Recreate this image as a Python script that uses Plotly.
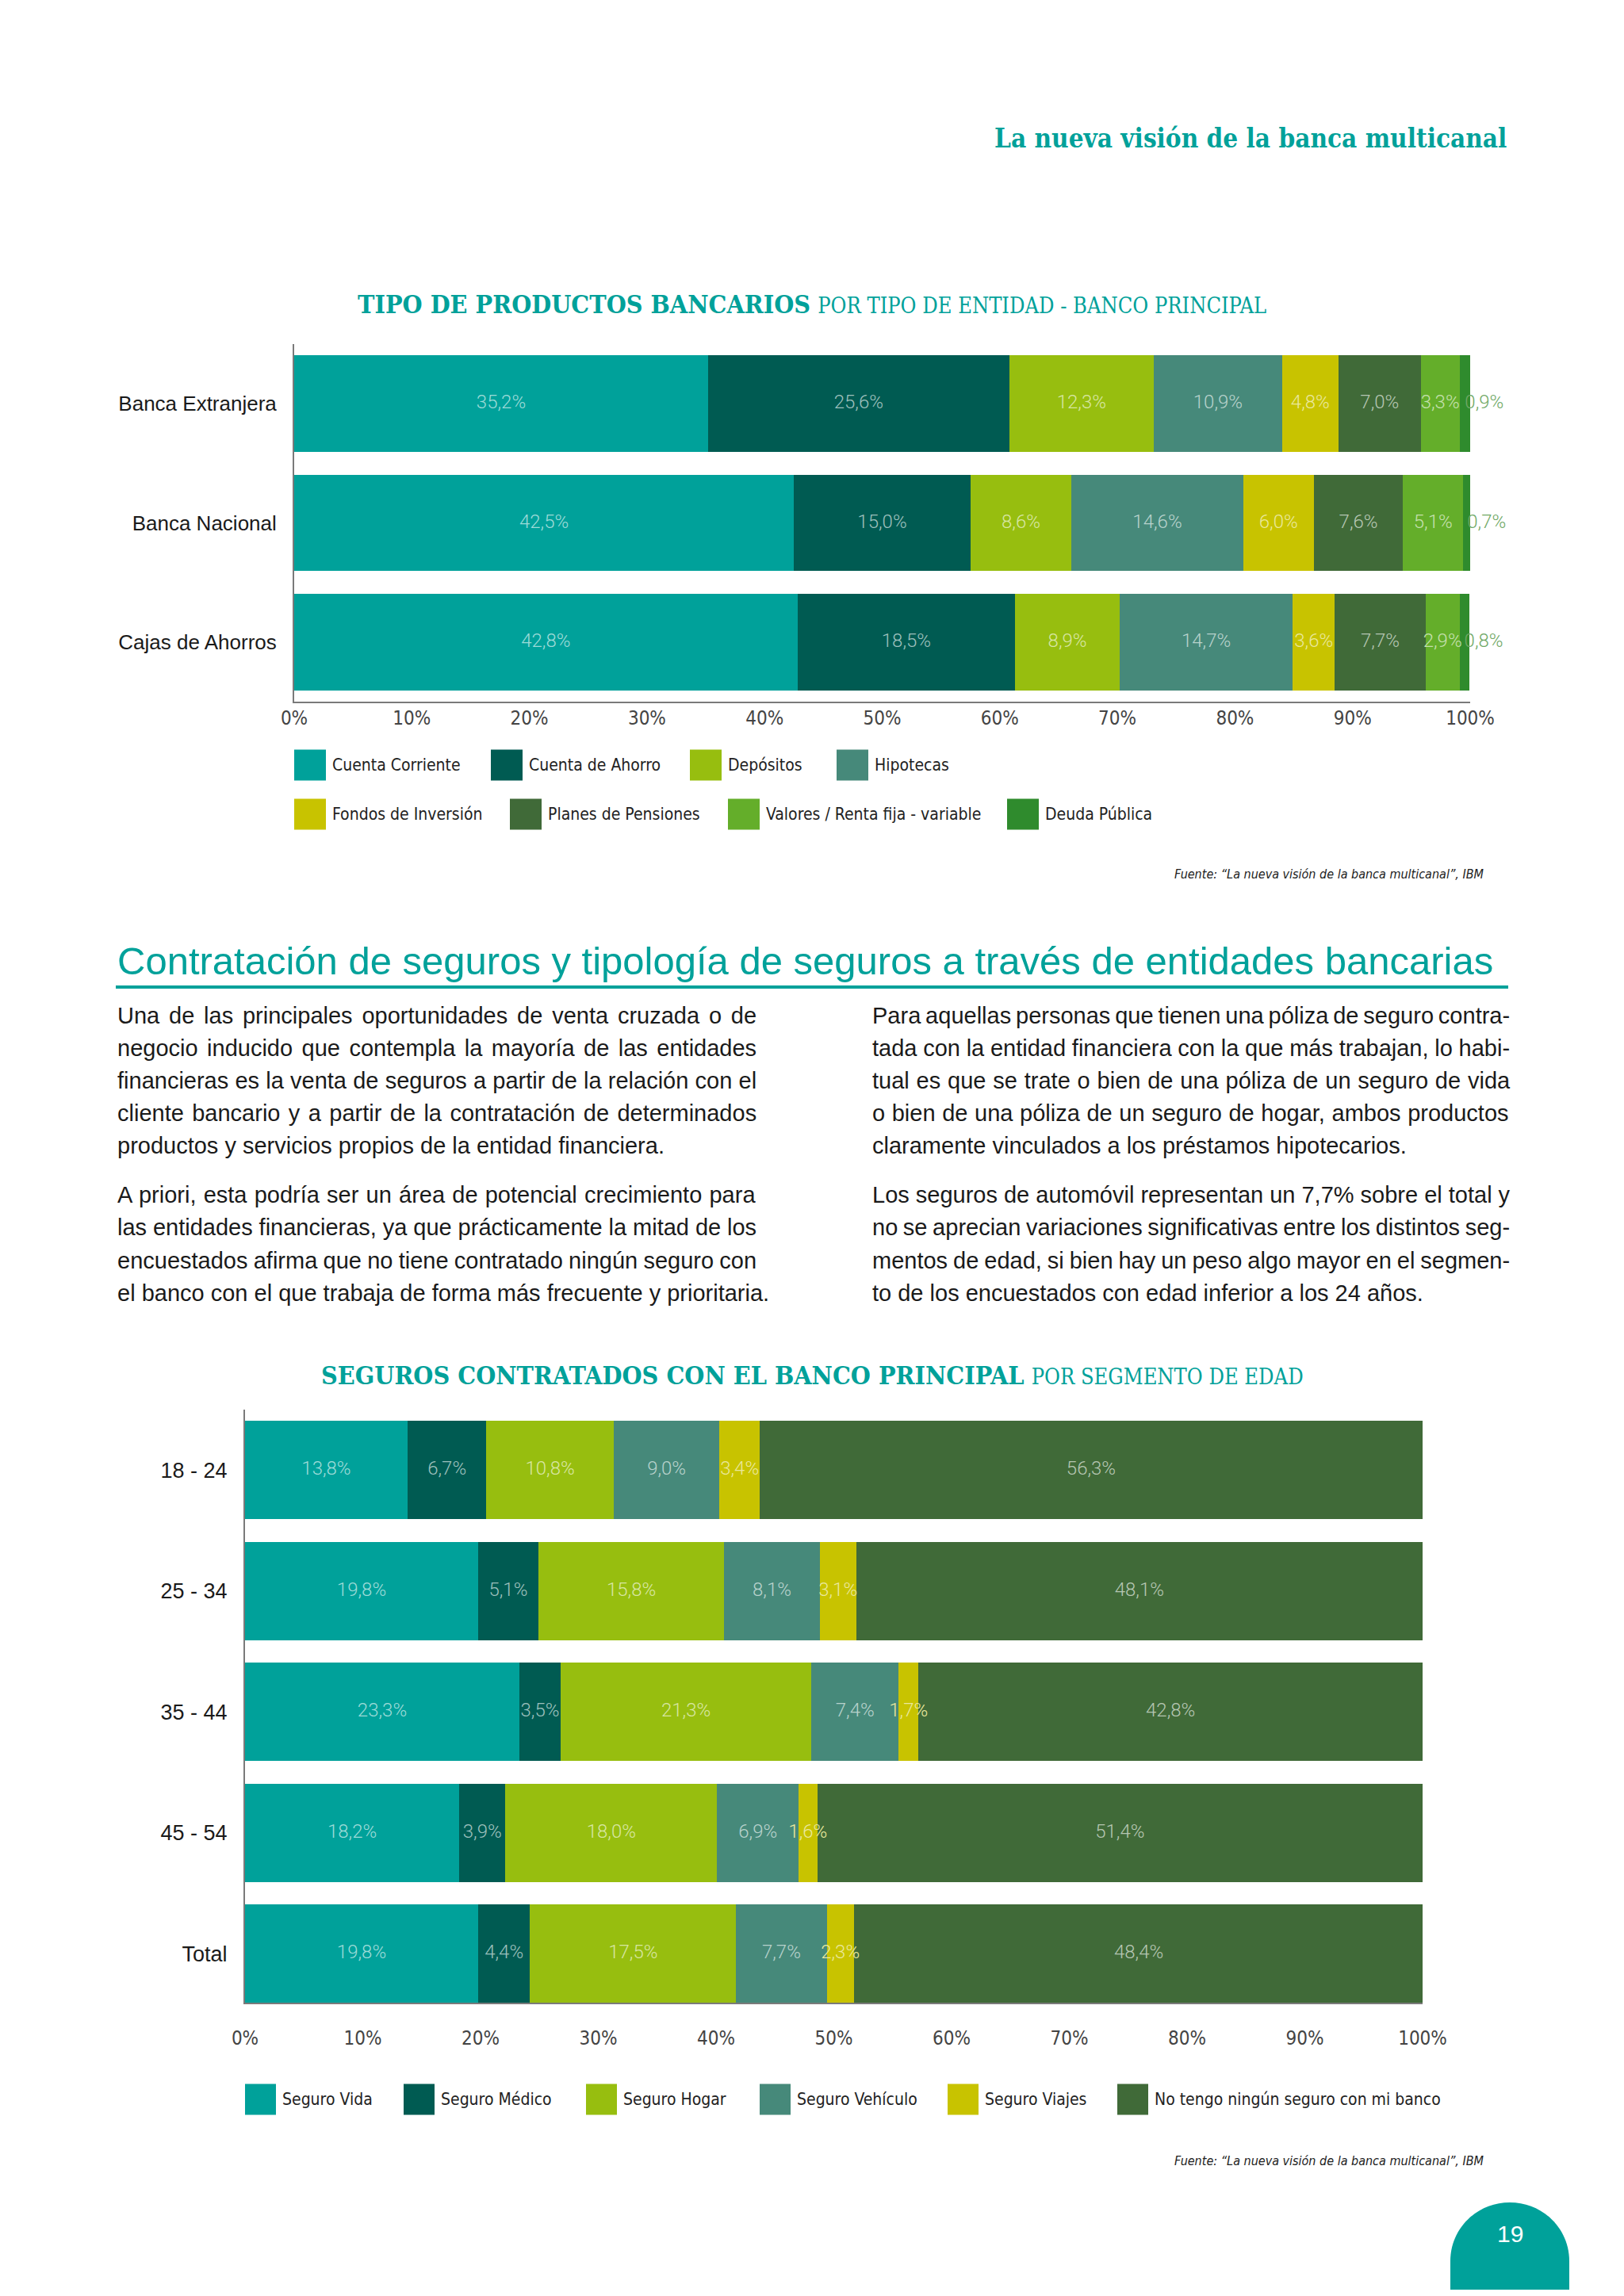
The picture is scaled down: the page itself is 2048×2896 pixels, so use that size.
import plotly.graph_objects as go

# Page is 2048x2896; body has an 8px default margin, so the figure is 16px smaller
PAGE_W, PAGE_H = 2048, 2896
M = 8
W, H = PAGE_W - 2 * M, PAGE_H - 2 * M

# ---------------- Data: chart 1 ----------------
entities = ["Banca Extranjera", "Banca Nacional", "Cajas de Ahorros"]
products = ["Cuenta Corriente", "Cuenta de Ahorro", "Depósitos", "Hipotecas",
            "Fondos de Inversión", "Planes de Pensiones",
            "Valores / Renta fija - variable", "Deuda Pública"]
cuenta_corriente = [35.2, 42.5, 42.8]
cuenta_ahorro = [25.6, 15.0, 18.5]
depositos = [12.3, 8.6, 8.9]
hipotecas = [10.9, 14.6, 14.7]
fondos_inversion = [4.8, 6.0, 3.6]
planes_pensiones = [7.0, 7.6, 7.7]
valores_renta = [3.3, 5.1, 2.9]
deuda_publica = [0.9, 0.7, 0.8]

# ---------------- Data: chart 2 ----------------
age_groups = ["18 - 24", "25 - 34", "35 - 44", "45 - 54", "Total"]
insurances = ["Seguro Vida", "Seguro Médico", "Seguro Hogar", "Seguro Vehículo",
              "Seguro Viajes", "No tengo ningún seguro con mi banco"]
seguro_vida = [13.8, 19.8, 23.3, 18.2, 19.8]
seguro_medico = [6.7, 5.1, 3.5, 3.9, 4.4]
seguro_hogar = [10.8, 15.8, 21.3, 18.0, 17.5]
seguro_vehiculo = [9.0, 8.1, 7.4, 6.9, 7.7]
seguro_viajes = [3.4, 3.1, 1.7, 1.6, 2.3]
ningun_seguro = [56.3, 48.1, 42.8, 51.4, 48.4]

x_tick_values = [0, 10, 20, 30, 40, 50, 60, 70, 80, 90, 100]

# ---------------- Styles ----------------
TEAL = "#00A19A"
C_VIDA = "#00A19A"
C_AHORRO = "#005B52"
C_DEPOS = "#97BE0F"
C_HIPOT = "#46897A"
C_FONDOS = "#C8C300"
C_PLANES = "#406A38"
C_VALORES = "#64AE2A"
C_DEUDA = "#2F8B2D"

colors1 = [C_VIDA, C_AHORRO, C_DEPOS, C_HIPOT, C_FONDOS, C_PLANES, C_VALORES, C_DEUDA]
colors2 = [C_VIDA, C_AHORRO, C_DEPOS, C_HIPOT, C_FONDOS, C_PLANES]

BODY = "Liberation Sans, Arial, sans-serif"
NARROW = "DejaVu Sans Condensed, Liberation Sans Narrow, sans-serif"
SLAB = "DejaVu Serif Condensed, DejaVu Serif, serif"
LIGHT = "Roboto, Liberation Sans, sans-serif"


def tint(hex_color, f=0.62):
    h = hex_color.lstrip("#")
    r, g, b = int(h[0:2], 16), int(h[2:4], 16), int(h[4:6], 16)
    r = int(r + (255 - r) * f)
    g = int(g + (255 - g) * f)
    b = int(b + (255 - b) * f)
    return f"rgb({r},{g},{b})"


def fmt(v):
    return f"{v:.1f}".replace(".", ",") + "%"


def X(p):
    return (p - M) / W


def Y(p):
    return 1 - (p - M) / H


fig = go.Figure()

# ---------------- Chart 1 bars ----------------
series1 = [cuenta_corriente, cuenta_ahorro, depositos, hipotecas,
           fondos_inversion, planes_pensiones, valores_renta, deuda_publica]
for name, vals, col in zip(products, series1, colors1):
    fig.add_trace(go.Bar(
        x=vals, y=entities, orientation="h", name=name,
        marker=dict(color=col, line=dict(width=0)),
        xaxis="x", yaxis="y", showlegend=False,
        hovertemplate="%{y}<br>" + name + ": %{x:.1f}%<extra></extra>"))

cum = [0.0] * len(entities)
for i, (name, vals, col) in enumerate(zip(products, series1, colors1)):
    xs = [c + v / 2 for c, v in zip(cum, vals)]
    last = i == len(series1) - 1
    fig.add_trace(go.Scatter(
        x=xs, y=entities, mode="text", text=[fmt(v) for v in vals],
        textposition="middle right" if last else "middle center",
        textfont=dict(family=LIGHT, size=24, weight=300,
                      color="#6FA865" if last else tint(col)),
        xaxis="x", yaxis="y", showlegend=False, hoverinfo="skip",
        cliponaxis=False))
    cum = [c + v for c, v in zip(cum, vals)]

# ---------------- Chart 2 bars ----------------
series2 = [seguro_vida, seguro_medico, seguro_hogar, seguro_vehiculo,
           seguro_viajes, ningun_seguro]
for name, vals, col in zip(insurances, series2, colors2):
    fig.add_trace(go.Bar(
        x=vals, y=age_groups, orientation="h", name=name,
        marker=dict(color=col, line=dict(width=0)),
        xaxis="x2", yaxis="y2", showlegend=False,
        hovertemplate="%{y}<br>" + name + ": %{x:.1f}%<extra></extra>"))

cum = [0.0] * len(age_groups)
for name, vals, col in zip(insurances, series2, colors2):
    xs = [c + v / 2 for c, v in zip(cum, vals)]
    fig.add_trace(go.Scatter(
        x=xs, y=age_groups, mode="text", text=[fmt(v) for v in vals],
        textposition="middle center",
        textfont=dict(family=LIGHT, size=24, weight=300, color=tint(col)),
        xaxis="x2", yaxis="y2", showlegend=False, hoverinfo="skip",
        cliponaxis=False))
    cum = [c + v for c, v in zip(cum, vals)]

axis_common = dict(showgrid=False, zeroline=False, showline=True,
                   linecolor="#7a7a7a", linewidth=2, ticks="", fixedrange=True,
                   automargin=False)

fig.update_layout(
    width=W, height=H, margin=dict(l=0, r=0, t=0, b=0, autoexpand=False),
    paper_bgcolor="white", plot_bgcolor="white",
    barmode="stack", bargap=0.19, showlegend=False,
    xaxis=dict(domain=[X(371), X(1854)], range=[0, 100], anchor="y",
               tickvals=x_tick_values, ticktext=[f"{v}%" for v in x_tick_values],
               tickfont=dict(family=NARROW, size=24, color="#444444"),
               ticklabelstandoff=-2, **axis_common),
    yaxis=dict(domain=[Y(885), Y(434)], type="category",
               categoryorder="array", categoryarray=entities,
               range=[2.5, -0.5], anchor="x",
               tickfont=dict(family=BODY, size=26, color="#1a1a1a"),
               ticklabelstandoff=15, **axis_common),
    xaxis2=dict(domain=[X(309), X(1794)], range=[0, 100], anchor="y2",
                tickvals=x_tick_values, ticktext=[f"{v}%" for v in x_tick_values],
                tickfont=dict(family=NARROW, size=24, color="#444444"),
                ticklabelstandoff=22, **axis_common),
    yaxis2=dict(domain=[Y(2526), Y(1778)], type="category",
                categoryorder="array", categoryarray=age_groups,
                range=[4.405, -0.5], anchor="x2",
                tickfont=dict(family=BODY, size=27, color="#1a1a1a"),
                ticklabelstandoff=15, **axis_common),
)

annotations = []
shapes = []


def text(x, y, s, size, color="#1a1a1a", family=BODY, xanchor="left",
         yanchor="middle", weight=None, style=None):
    f = dict(family=family, size=size, color=color)
    if weight is not None:
        f["weight"] = weight
    if style is not None:
        f["style"] = style
    annotations.append(dict(x=X(x), y=Y(y), xref="paper", yref="paper",
                            text=s, showarrow=False, xanchor=xanchor,
                            yanchor=yanchor, font=f, align="left"))


# Arial / Liberation Sans advance widths (1/1000 em) for justification
ARIAL = {" ": 278, ",": 278, ".": 278, "-": 333, "%": 889, "/": 278,
         "0": 556, "1": 556, "2": 556, "3": 556, "4": 556, "5": 556,
         "6": 556, "7": 556, "8": 556, "9": 556,
         "A": 667, "L": 556, "P": 667, "U": 722,
         "a": 556, "b": 556, "c": 500, "d": 556, "e": 556, "f": 278, "g": 556,
         "h": 556, "i": 222, "j": 222, "k": 500, "l": 222, "m": 833, "n": 556,
         "o": 556, "p": 556, "q": 556, "r": 333, "s": 500, "t": 278, "u": 556,
         "v": 500, "w": 722, "x": 500, "y": 500, "z": 500,
         "á": 556, "é": 556, "í": 278, "ó": 556, "ú": 556, "ñ": 556}


def measure(s, size):
    return sum(ARIAL.get(ch, 556) for ch in s) * size / 1000.0


def body_line(x, y, s, size, width, justify):
    if justify and s.count(" ") > 0:
        extra = (width - measure(s, size)) / s.count(" ")
        s = f"<span style='word-spacing:{extra:.2f}px'>{s}</span>"
    text(x, y, s, size, "#1a1a1a", BODY)


# Header
text(1902, 174, "<b>La nueva visión de la banca multicanal</b>", 33, TEAL, SLAB, xanchor="right")

# Chart 1 title
text(1024, 384, "<b>TIPO DE PRODUCTOS BANCARIOS</b> "
     "<span style='font-size:27px'>POR TIPO DE ENTIDAD - BANCO PRINCIPAL</span>",
     32, TEAL, SLAB, xanchor="center")

# Chart 1 legend
legend1_pos = [(371, 965), (619, 965), (870, 965), (1055, 965),
               (371, 1027), (643, 1027), (918, 1027), (1270, 1027)]
for (lx, ly), name, col in zip(legend1_pos, products, colors1):
    shapes.append(dict(type="rect", xref="paper", yref="paper",
                       x0=X(lx), x1=X(lx + 40), y0=Y(ly + 19.5), y1=Y(ly - 19.5),
                       fillcolor=col, line=dict(width=0)))
    text(lx + 46, ly, name, 21, "#222222", NARROW)

# Source 1
text(1874, 1103, "Fuente: “La nueva visión de la banca multicanal”, IBM", 16,
     "#222222", NARROW, xanchor="right", style="italic")

# Section heading
text(146, 1212, "Contratación de seguros y tipología de seguros a través de entidades bancarias",
     49, TEAL, BODY)
shapes.append(dict(type="line", xref="paper", yref="paper",
                   x0=X(146), x1=X(1902), y0=Y(1245), y1=Y(1245),
                   line=dict(color=TEAL, width=4)))

left_lines = [
    "Una de las principales oportunidades de venta cruzada o de",
    "negocio inducido que contempla la mayoría de las entidades",
    "financieras es la venta de seguros a partir de la relación con el",
    "cliente bancario y a partir de la contratación de determinados",
    "productos y servicios propios de la entidad financiera.",
    "A priori, esta podría ser un área de potencial crecimiento para",
    "las entidades financieras, ya que prácticamente la mitad de los",
    "encuestados afirma que no tiene contratado ningún seguro con",
    "el banco con el que trabaja de forma más frecuente y prioritaria.",
]
right_lines = [
    "Para aquellas personas que tienen una póliza de seguro contra-",
    "tada con la entidad financiera con la que más trabajan, lo habi-",
    "tual es que se trate o bien de una póliza de un seguro de vida",
    "o bien de una póliza de un seguro de hogar, ambos productos",
    "claramente vinculados a los préstamos hipotecarios.",
    "Los seguros de automóvil representan un 7,7% sobre el total y",
    "no se aprecian variaciones significativas entre los distintos seg-",
    "mentos de edad, si bien hay un peso algo mayor en el segmen-",
    "to de los encuestados con edad inferior a los 24 años.",
]
line_y = [1281, 1322, 1363, 1404, 1445, 1507, 1548, 1590, 1631]
paragraph_end = [False, False, False, False, True, False, False, False, True]
for s, yy, end in zip(left_lines, line_y, paragraph_end):
    body_line(146, yy, s, 29, 806, not end)
for s, yy, end in zip(right_lines, line_y, paragraph_end):
    body_line(1098, yy, s, 29, 804, not end)

# Chart 2 title
text(1024, 1735, "<b>SEGUROS CONTRATADOS CON EL BANCO PRINCIPAL</b> "
     "<span style='font-size:27px'>POR SEGMENTO DE EDAD</span>",
     32, TEAL, SLAB, xanchor="center")

# Chart 2 legend
legend2_x = [309, 509, 739, 958, 1195, 1409]
for lx, name, col in zip(legend2_x, insurances, colors2):
    ly = 2648
    shapes.append(dict(type="rect", xref="paper", yref="paper",
                       x0=X(lx), x1=X(lx + 39), y0=Y(ly + 19.5), y1=Y(ly - 19.5),
                       fillcolor=col, line=dict(width=0)))
    text(lx + 45, ly, name, 21, "#222222", NARROW)

# Source 2
text(1874, 2725, "Fuente: “La nueva visión de la banca multicanal”, IBM", 16,
     "#222222", NARROW, xanchor="right", style="italic")

# Page number tab (rounded top)
x0, x1 = 1829, 1979
xc = (x0 + x1) / 2
k = 41.4
path = (f"M {X(x0)},{Y(2910)} L {X(x0)},{Y(2852)} "
        f"C {X(x0)},{Y(2852 - k)} {X(xc - k)},{Y(2778)} {X(xc)},{Y(2778)} "
        f"C {X(xc + k)},{Y(2778)} {X(x1)},{Y(2852 - k)} {X(x1)},{Y(2852)} "
        f"L {X(x1)},{Y(2910)} Z")
shapes.append(dict(type="path", xref="paper", yref="paper", path=path,
                   fillcolor=TEAL, line=dict(width=0)))
text(1904, 2817, "19", 30, "white", BODY, xanchor="center")

fig.update_layout(annotations=annotations, shapes=shapes)

fig.write_html("out.html")
